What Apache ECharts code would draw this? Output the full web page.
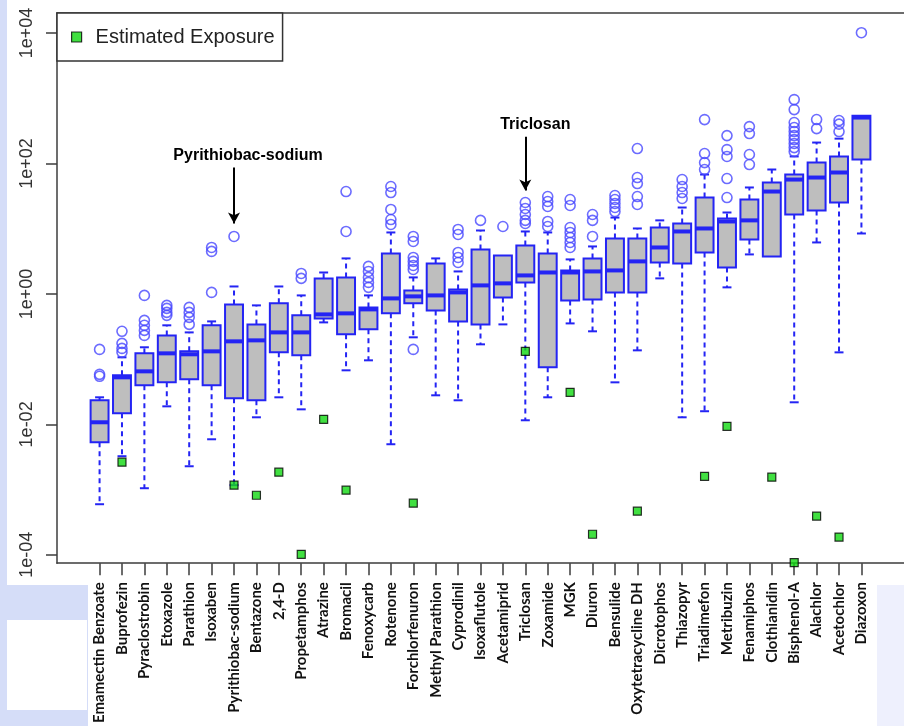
<!DOCTYPE html>
<html>
<head>
<meta charset="utf-8">
<script src="https://cdn.jsdelivr.net/npm/echarts@6/dist/echarts.min.js"></script>
<style>
html,body{margin:0;padding:0;background:#fff;}
#chart{width:904px;height:726px;}
</style>
</head>
<body>
<div id="chart"></div>
<script>
const categories = ['Emamectin Benzoate','Buprofezin','Pyraclostrobin','Etoxazole','Parathion','Isoxaben','Pyrithiobac-sodium','Bentazone','2,4-D','Propetamphos','Atrazine','Bromacil','Fenoxycarb','Rotenone','Forchlorfenuron','Methyl Parathion','Cyprodinil','Isoxaflutole','Acetamiprid','Triclosan','Zoxamide','MGK','Diuron','Bensulide','Oxytetracycline DH','Dicrotophos','Thiazopyr','Triadimefon','Metribuzin','Fenamiphos','Clothianidin','Bisphenol-A','Alachlor','Acetochlor','Diazoxon'];

const lowWhisker = [0.000597, 0.00325, 0.00105, 0.0189, 0.00228, 0.00591, 0.00117, 0.01284, 0.026, 0.017, 0.366, 0.0674, 0.0959, 0.00496, 0.216, 0.0279, 0.0234, 0.1686, 0.341, 0.01156, 0.026, 0.353, 0.267, 0.0441, 0.1364, 1.73, 0.01284, 0.0159, 1.26, 4.03, 3.75, 0.0218, 6.15, 0.127, 8.44];
const q1 = [0.00532, 0.0148, 0.0397, 0.0441, 0.049, 0.0397, 0.0251, 0.0234, 0.127, 0.1144, 0.421, 0.24, 0.286, 0.503, 0.716, 0.559, 0.379, 0.341, 0.884, 1.50, 0.0748, 0.795, 0.824, 1.054, 1.054, 3.03, 2.93, 4.32, 2.55, 6.83, 3.75, 16.5, 19.0, 25.2, 115];
const median = [0.01077, 0.0526, 0.065, 0.1227, 0.1186, 0.1316, 0.1874, 0.194, 0.257, 0.257, 0.485, 0.503, 0.579, 0.853, 0.916, 0.948, 1.054, 1.35, 1.45, 1.92, 2.13, 2.13, 2.21, 2.29, 3.15, 5.15, 9.06, 10.07, 12.9, 13.4, 37.1, 56.6, 60.8, 72.6, 505];
const q3 = [0.0234, 0.0565, 0.1227, 0.231, 0.1316, 0.33, 0.69, 0.341, 0.716, 0.469, 1.73, 1.79, 0.621, 4.17, 1.13, 2.93, 1.17, 4.8, 3.89, 5.53, 4.17, 2.29, 3.5, 7.08, 7.08, 10.4, 12.0, 30.0, 14.3, 28.0, 51, 67.6, 103, 128, 540];
const highWhisker = [0.026, 0.1066, 0.152, 0.33, 0.257, 0.379, 1.30, 0.667, 1.30, 0.948, 2.13, 3.5, 0.948, 8.75, 1.79, 3.5, 2.21, 9.38, 3.89, 9.06, 8.75, 3.38, 5.34, 14.8, 10.07, 13.4, 21.1, 67.6, 17.7, 42.8, 80.7, 128, 209, 240, 540];

const outliers = [
  [0.0546, 0.0585, 0.141],
  [0.267, 0.1745, 0.146, 0.127],
  [0.948, 0.393, 0.33, 0.276, 0.231],
  [0.667, 0.6, 0.521, 0.469],
  [0.621, 0.521, 0.437, 0.341],
  [1.054, 5.15, 4.48],
  [7.6],
  [],
  [],
  [2.06, 1.73],
  [],
  [37.1, 9.06],
  [2.64, 2.21, 1.79, 1.50, 1.26],
  [44.3, 35.8, 19.7, 13.8, 11.6],
  [7.6, 6.37, 3.62, 3.15, 2.73, 2.37, 0.141],
  [],
  [9.72, 8.15, 4.32, 3.62, 3.03],
  [13.4],
  [10.8],
  [25.2, 20.4, 16.5, 13.4, 12.0],
  [31.1, 26.1, 21.9, 12.9, 10.8],
  [28.0, 22.7, 10.4, 8.75, 7.33, 6.15, 5.15],
  [16.5, 13.4, 7.6],
  [32.2, 28.0, 24.3, 21.1, 18.3],
  [169, 60.8, 49.2, 31.1, 23.5],
  [],
  [56.6, 44.3, 35.8, 29.0],
  [470, 142, 103, 80.7],
  [267, 163, 128, 58.7, 30.0],
  [367, 287, 137, 96.2],
  [],
  [952, 669, 423, 355, 308, 267, 232, 202, 175, 152],
  [471, 342],
  [454, 400, 308],
  [10100]
];

const exposure = [null, 0.00263, null, null, null, null, 0.00117, 0.00082, 0.00185, 0.000102, 0.01197, 0.00098, null, null, 0.00062, null, null, null, null, 0.1316, null, 0.031, 0.000207, null, 0.000467, null, null, 0.0016, 0.00935, null, 0.00155, 0.000076, 0.000392, 0.000187, null];

const yTickValues = [1e-4, 1e-2, 1, 1e2, 1e4];

const annotations = [
  { name: 'Pyrithiobac-sodium', x: 7, yStart: 87, yEnd: 12.0, shift: 28 },
  { name: 'Triclosan', x: 20, yStart: 257, yEnd: 38.3, shift: 20 }
];

// ---- build ----
const positions = categories.map((c, i) => i + 1);
const boxData = categories.map((c, i) => [i + 1, lowWhisker[i], q1[i], median[i], q3[i], highWhisker[i]]);
const outlierData = [];
outliers.forEach((arr, i) => arr.forEach(v => outlierData.push([i + 1, v])));
const exposureData = [];
exposure.forEach((v, i) => { if (v !== null) exposureData.push([i + 1, v]); });

const BLUE = '#2424f4';
function fmtExp(v) {
  const e = Math.round(Math.log10(v));
  const s = e < 0 ? '-' : '+';
  const a = Math.abs(e);
  return '1e' + s + (a < 10 ? '0' + a : a);
}

function renderBox(params, api) {
  const x = api.value(0);
  const lo = api.coord([x, api.value(1)]);
  const b1 = api.coord([x, api.value(2)]);
  const md = api.coord([x, api.value(3)]);
  const b3 = api.coord([x, api.value(4)]);
  const hi = api.coord([x, api.value(5)]);
  const w = api.size([0.8, 0])[0];
  const cw = api.size([0.4, 0])[0];
  const cx = lo[0];
  const dash = { stroke: BLUE, lineWidth: 2, lineDash: [5, 4] };
  const solid = { stroke: BLUE, lineWidth: 2 };
  const children = [];
  if (Math.abs(lo[1] - b1[1]) > 0.5) {
    children.push({ type: 'line', shape: { x1: cx, y1: b1[1], x2: cx, y2: lo[1] }, style: dash });
    children.push({ type: 'line', shape: { x1: cx - cw / 2, y1: lo[1], x2: cx + cw / 2, y2: lo[1] }, style: solid });
  }
  if (Math.abs(hi[1] - b3[1]) > 0.5) {
    children.push({ type: 'line', shape: { x1: cx, y1: b3[1], x2: cx, y2: hi[1] }, style: dash });
    children.push({ type: 'line', shape: { x1: cx - cw / 2, y1: hi[1], x2: cx + cw / 2, y2: hi[1] }, style: solid });
  }
  children.push({ type: 'rect', shape: { x: cx - w / 2, y: b3[1], width: w, height: b1[1] - b3[1] },
    style: { fill: '#bebebe', stroke: BLUE, lineWidth: 2 } });
  children.push({ type: 'line', shape: { x1: cx - w / 2, y1: md[1], x2: cx + w / 2, y2: md[1] },
    style: { stroke: BLUE, lineWidth: 4 } });
  return { type: 'group', children: children };
}

const chart = echarts.init(document.getElementById('chart'), null, { renderer: 'canvas' });

const option = {
  backgroundColor: '#ffffff',
  animation: false,
  graphic: [
    { type: 'rect', z: -10, shape: { x: 0, y: 0, width: 7, height: 726 }, style: { fill: '#d5ddf8' } },
    { type: 'rect', z: -10, shape: { x: 0, y: 585, width: 88, height: 141 }, style: { fill: '#d5ddf8' } },
    { type: 'rect', z: -9, shape: { x: 7, y: 620, width: 80, height: 90 }, style: { fill: '#ffffff' } },
    { type: 'rect', z: -10, shape: { x: 877, y: 585, width: 27, height: 141 }, style: { fill: '#eef0fd' } }
  ],
  legend: {
    left: 57, top: 13,
    orient: 'horizontal',
    padding: [14, 8, 14, 14],
    backgroundColor: '#ffffff',
    borderColor: '#333333',
    borderWidth: 1.5,
    itemWidth: 10, itemHeight: 10,
    selectedMode: false,
    textStyle: { fontFamily: 'Liberation Sans, Arial, sans-serif', fontSize: 20, color: '#222', padding: [0, 0, 0, 9] },
    data: [{ name: 'Estimated Exposure', icon: 'rect', itemStyle: { color: '#12d812', borderColor: '#000', borderWidth: 1.2 } }]
  },
  grid: { left: 57, top: 13, width: 853, height: 551, containLabel: false },
  xAxis: [{
    type: 'value', min: -0.9, max: 36.9, position: 'bottom',
    axisLine: { show: true, onZero: false, lineStyle: { color: '#3c3c3c', width: 1.5 } },
    axisTick: { show: true, customValues: positions, length: 12, lineStyle: { color: '#3c3c3c', width: 1.5 } },
    axisLabel: {
      show: true, customValues: positions, rotate: 90, margin: 19,
      formatter: v => categories[Math.round(v) - 1],
      fontFamily: 'Lato, sans-serif', fontWeight: 'bold', fontSize: 15, color: '#111'
    },
    splitLine: { show: false }
  }, {
    type: 'value', min: -0.9, max: 36.9, position: 'top',
    axisLine: { show: true, onZero: false, lineStyle: { color: '#3c3c3c', width: 1.5 } },
    axisTick: { show: false }, axisLabel: { show: false }, splitLine: { show: false }
  }],
  yAxis: {
    type: 'log', logBase: 10, min: 7.46e-5, max: 20230, position: 'left',
    axisLine: { show: true, onZero: false, lineStyle: { color: '#3c3c3c', width: 1.5 } },
    axisTick: { show: true, customValues: yTickValues, length: 11, lineStyle: { color: '#3c3c3c', width: 1.5 } },
    axisLabel: {
      show: true, customValues: yTickValues, rotate: 90, margin: 21,
      formatter: v => fmtExp(v),
      fontFamily: 'Liberation Sans, Arial, sans-serif', fontSize: 18, color: '#333'
    },
    splitLine: { show: false }
  },
  series: [
    {
      type: 'custom', name: 'box', renderItem: renderBox, data: boxData,
      encode: { x: 0, y: [1, 2, 3, 4, 5] }, z: 2, silent: true
    },
    {
      type: 'scatter', name: 'outliers', data: outlierData, symbol: 'circle', symbolSize: 10,
      itemStyle: { color: 'rgba(0,0,0,0)', borderColor: '#4747ff', borderWidth: 1.6 },
      z: 3, silent: true
    },
    {
      type: 'scatter', name: 'Estimated Exposure', data: exposureData, symbol: 'rect', symbolSize: 8,
      itemStyle: { color: '#12d812', borderColor: '#000', borderWidth: 1.2 },
      z: 4, silent: true,
      markLine: {
        silent: true, animation: false,
        symbol: ['none', 'arrow'], symbolSize: 10,
        lineStyle: { color: '#000', width: 2, type: 'solid' },
        label: { show: true, position: 'start', distance: 4, fontFamily: 'Liberation Sans, Arial, sans-serif',
          fontWeight: 'bold', fontSize: 16, color: '#000' },
        data: annotations.map(a => [
          { coord: [a.x, a.yStart], label: { formatter: a.name, padding: [0, 0, 0, a.shift] } },
          { coord: [a.x, a.yEnd], symbolSize: [9, 11] }
        ])
      }
    }
  ]
};
chart.setOption(option);
</script>
</body>
</html>
